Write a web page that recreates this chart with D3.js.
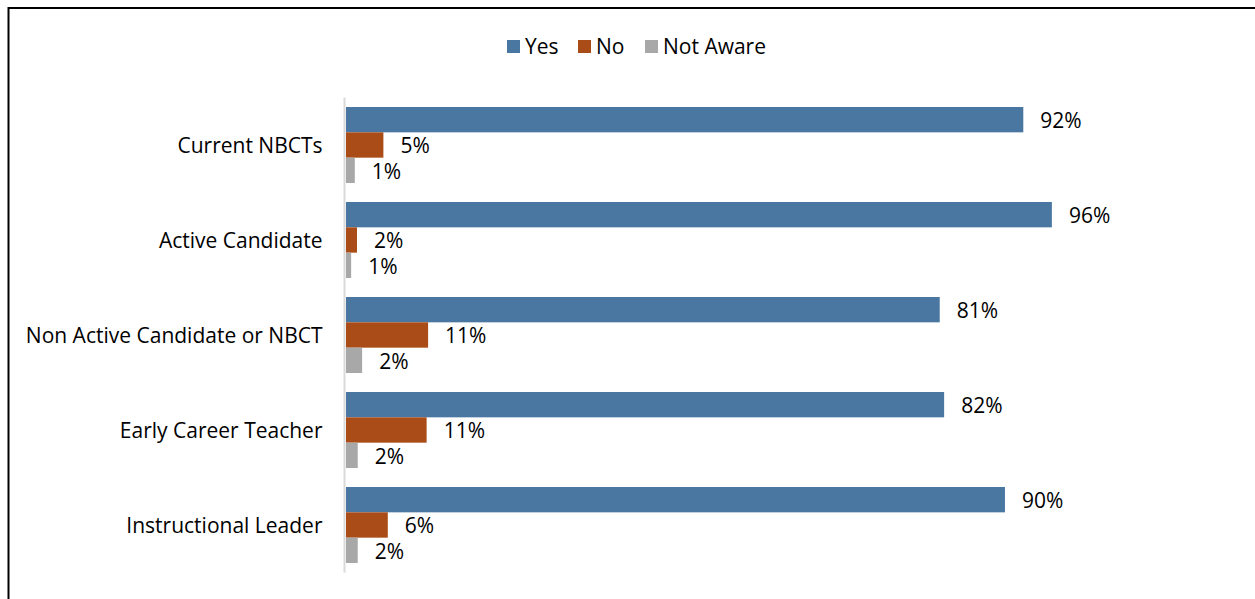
<!DOCTYPE html>
<html><head><meta charset="utf-8">
<script src="https://cdn.jsdelivr.net/npm/d3@7"></script>
<style>html,body{margin:0;padding:0;background:#fff;overflow:hidden}</style>
</head><body>
<svg id="c" width="1255" height="599"></svg>
<script>
const categories = ["Current NBCTs","Active Candidate","Non Active Candidate or NBCT","Early Career Teacher","Instructional Leader"];
const seriesNames = ["Yes","No","Not Aware"];
const yesValues = [92.4, 96.3, 81.0, 81.6, 89.9];
const noValues = [5.1, 1.5, 11.2, 11.0, 5.7];
const notAwareValues = [1.2, 0.7, 2.2, 1.6, 1.6];
const colors = ["#4A77A2", "#AA4C17", "#A8A8A8"];

const svg = d3.select("#c");
const font = "'Open Sans', sans-serif";
const fs = 21;
svg.append("rect").attr("x",8.5).attr("y",8).attr("width",1400).attr("height",800)
  .attr("fill","none").attr("stroke","#000").attr("stroke-width",2);

const x = d3.scaleLinear().domain([0,100]).range([346, 346+733]);
const y = d3.scaleBand().domain(categories).range([97.5, 572.5]).paddingInner(0.2).paddingOuter(0.1);
const ys = d3.scaleBand().domain(seriesNames).range([0, y.bandwidth()]);

const rows = categories.map((c,i)=>({cat:c, vals:[yesValues[i], noValues[i], notAwareValues[i]]}));

const g = svg.append("g");
const grp = g.selectAll("g.cat").data(rows).enter().append("g")
  .attr("transform", d=>`translate(0,${y(d.cat)})`);
grp.selectAll("rect").data(d=>d.vals.map((v,k)=>({v,k}))).enter().append("rect")
  .attr("x", x(0)).attr("y", d=>ys(seriesNames[d.k]))
  .attr("width", d=>x(d.v)-x(0)).attr("height", ys.bandwidth())
  .attr("fill", d=>colors[d.k]);
grp.selectAll("text").data(d=>d.vals.map((v,k)=>({v,k}))).enter().append("text")
  .attr("x", d=>x(d.v)+17).attr("y", d=>ys(seriesNames[d.k])+ys.bandwidth()/2+1)
  .attr("dy","0.35em").attr("font-family",font).attr("font-size",fs).attr("fill","#000")
  .text(d=>Math.round(d.v)+"%");

// axis line
const yAxis = d3.axisLeft(y).tickSize(0).tickPadding(22);
const ax = svg.append("g").attr("transform","translate(344.5,0)").call(yAxis);
ax.select(".domain").attr("stroke","#d9d9d9").attr("stroke-width",2).attr("d","M0,97.5V572.5");
ax.selectAll("text").attr("font-family",font).attr("font-size",fs).attr("fill","#000").attr("dy","0.4em");

// legend
const legend = svg.append("g");
const legX = [507, 578, 645];
seriesNames.forEach((s,i)=>{
  legend.append("rect").attr("x",legX[i]).attr("y",40).attr("width",13).attr("height",13).attr("fill",colors[i]);
  legend.append("text").attr("x",legX[i]+18).attr("y",46.5).attr("dy","0.35em")
    .attr("font-family",font).attr("font-size",fs).attr("fill","#000").text(s);
});
</script>
</body></html>
